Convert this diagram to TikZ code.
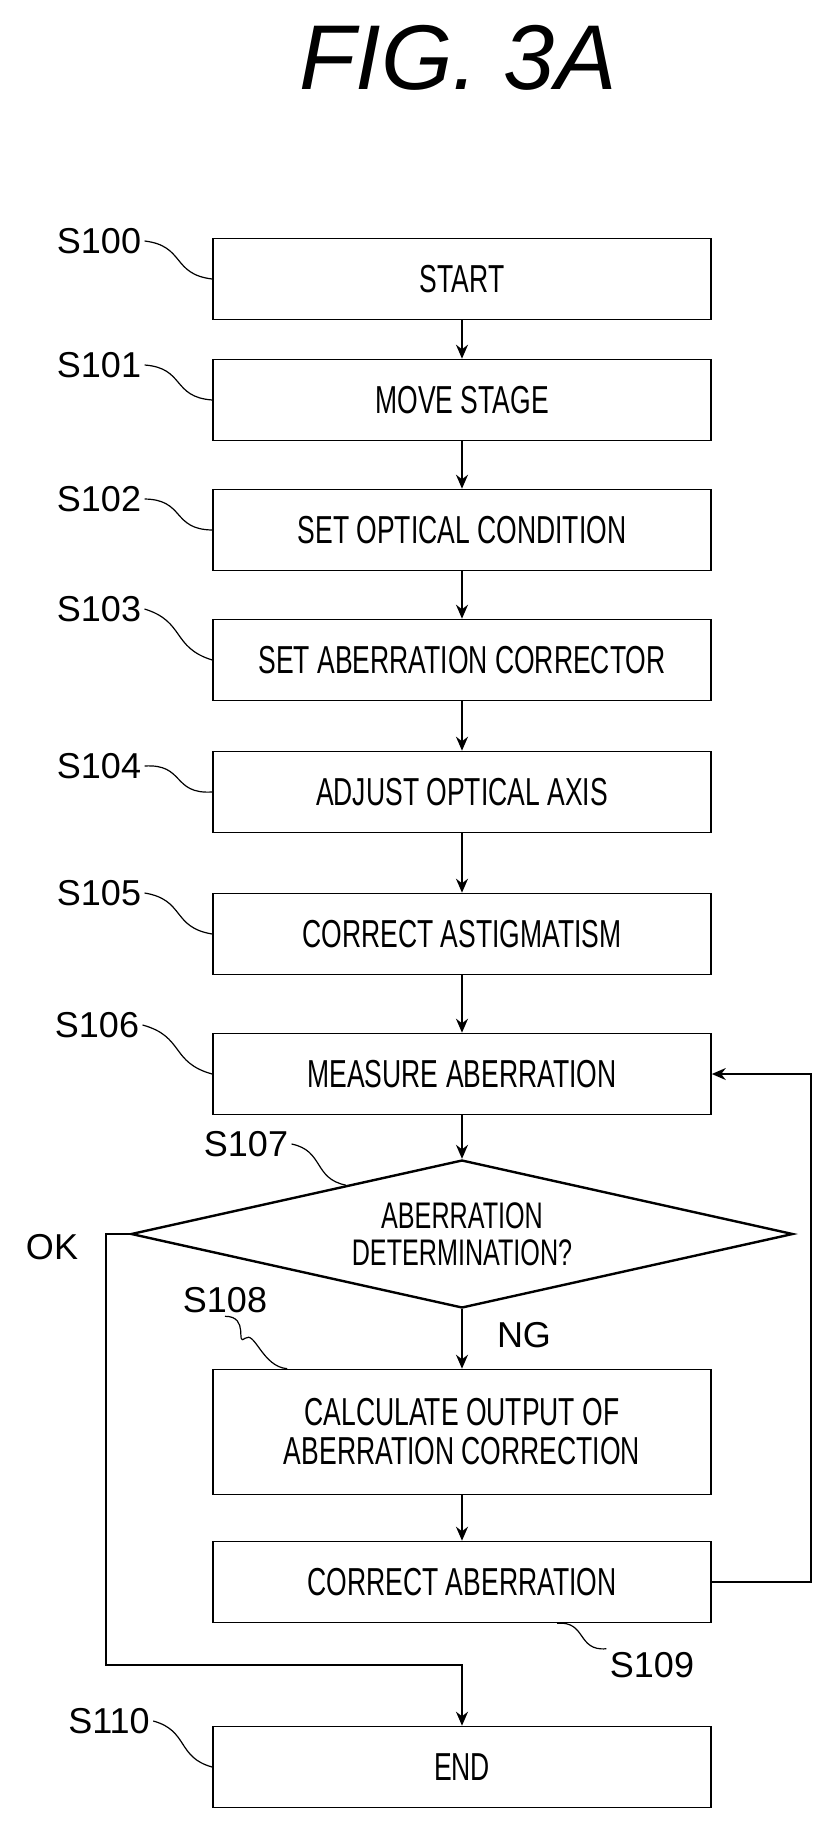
\documentclass[tikz,border=0pt]{standalone}
\usepackage{fontspec}
\setmainfont{Liberation Sans}
\newfontfamily\boxfont{Liberation Sans}[FakeStretch=0.68]
\usetikzlibrary{shapes.geometric,arrows.meta,calc}

\tikzset{
  stage/.style={draw, line width=1.6pt, minimum width=498pt, minimum height=81pt,
    align=center, font=\boxfont\fontsize{39}{45}\selectfont},
  test/.style={draw, diamond, aspect=4.47, line width=2.4pt, minimum width=662pt,
    minimum height=148pt, inner sep=0pt, align=center, font=\boxfont\fontsize{37}{43}\selectfont},
  lab/.style={font=\fontsize{36}{42}\selectfont},
  arr/.style={line width=1.6pt, -{Stealth[length=14pt,width=12pt]}},
  wire/.style={line width=1.6pt}
}
\newcommand{\squig}[2]{\draw[line width=1.2pt] (#1) .. controls ($(#1)!0.6!(#2)+(0,-18)$) and ($(#1)!0.4!(#2)+(0,18)$) .. (#2);}

\begin{document}
\begin{tikzpicture}[x=1pt,y=-1pt]
      \useasboundingbox (0,0) rectangle (824,1834);
      \node(title) at (458,58) {\fontsize{92}{100}\selectfont\itshape FIG. 3A};

      \node[stage](start) at (462,279)  {START};
      \node[stage](move)  at (462,400)  {MOVE STAGE};
      \node[stage](opt)   at (462,530)  {SET OPTICAL CONDITION};
      \node[stage](corr)  at (462,660)  {SET ABERRATION CORRECTOR};
      \node[stage](axis)  at (462,792)  {ADJUST OPTICAL AXIS};
      \node[stage](astig) at (462,934)  {CORRECT ASTIGMATISM};
      \node[stage](meas)  at (462,1074) {MEASURE ABERRATION};
      \node[test](det)   at (462,1234) {ABERRATION\\[-6pt]DETERMINATION?};
      \node[stage, minimum height=125pt](calc) at (462,1432) {CALCULATE OUTPUT OF\\[-6pt]ABERRATION CORRECTION};
      \node[stage](fix)   at (462,1582) {CORRECT ABERRATION};
      \node[stage](stop)  at (462,1767) {END};

      \node[lab](l100) at (99,241)   {S100};
      \node[lab](l101) at (99,365)   {S101};
      \node[lab](l102) at (99,499)   {S102};
      \node[lab](l103) at (99,609)   {S103};
      \node[lab](l104) at (99,766)   {S104};
      \node[lab](l105) at (99,893)   {S105};
      \node[lab](l106) at (97,1025)  {S106};
      \node[lab](l107) at (246,1144) {S107};
      \node[lab](l108) at (225,1300) {S108};
      \node[lab](l109) at (652,1665) {S109};
      \node[lab](l110) at (109,1721) {S110};
      \node[lab](ok)   at (52,1247)  {OK};
      \node[lab](ng)   at (524,1335) {NG};

      \squig{l100.east}{start.west}
      \squig{l101.east}{move.west}
      \squig{l102.east}{opt.west}
      \squig{l103.east}{corr.west}
      \squig{l104.east}{axis.west}
      \squig{l105.east}{astig.west}
      \squig{l106.east}{meas.west}
      \squig{l107.east}{$(det.north)!0.35!(det.west)$}
      \draw[line width=1.2pt] (l108.south) .. controls +(25,0) and +(-10,8) .. ++(20,22)
        .. controls +(10,-8) and +(-25,-2) .. ($(calc.north west)+(75,0)$);
      \squig{$(fix.south)+(95,0)$}{l109.north west}
      \squig{l110.east}{stop.west}

      \coordinate(back) at (811,1582);
      \coordinate(okc)  at (106,1665);

      \draw[arr](start) -- (move);
      \draw[arr](move)  -- (opt);
      \draw[arr](opt)   -- (corr);
      \draw[arr](corr)  -- (axis);
      \draw[arr](axis)  -- (astig);
      \draw[arr](astig) -- (meas);
      \draw[arr](meas)  -- (det);
      \draw[arr](det)   -- (calc);
      \draw[arr](calc)  -- (fix);
      \draw[arr](fix.east) -- (back) |- (meas.east);
      \draw[arr](det.west) -| (okc) -| (stop.north);
    \end{tikzpicture}
\end{document}
